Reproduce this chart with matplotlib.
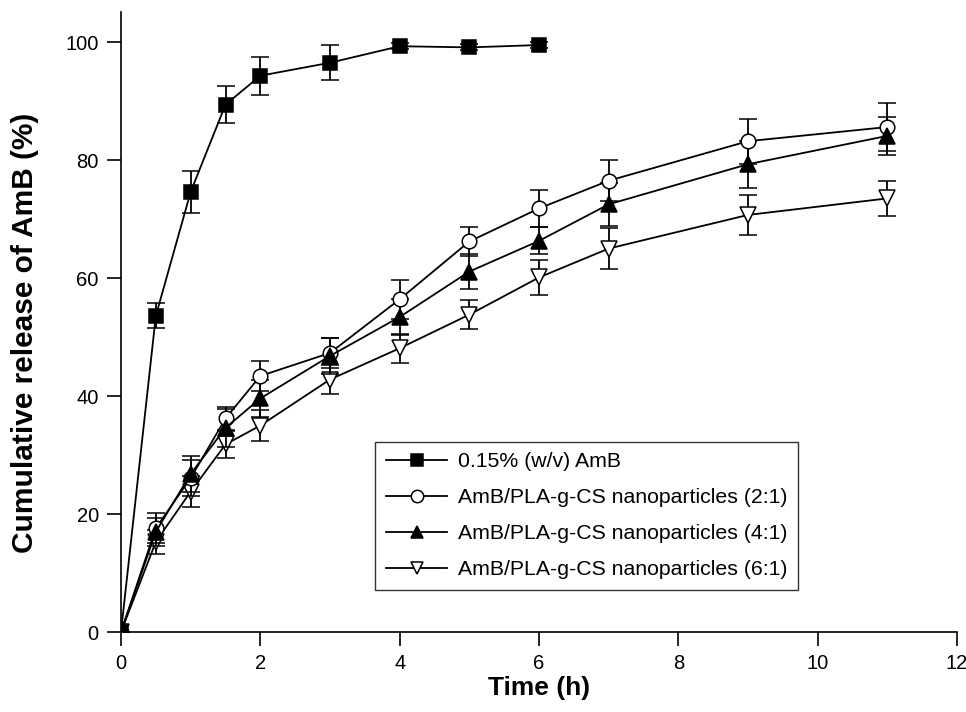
import matplotlib
matplotlib.use("Agg")
import matplotlib.pyplot as plt

plt.rcParams['font.family'] = ['Liberation Sans', 'DejaVu Sans']

time_free = [0, 0.5, 1, 1.5, 2, 3, 4, 5, 6]
free_amb = [0, 53.6, 74.6, 89.4, 94.3, 96.5, 99.3, 99.1, 99.5]
free_err = [0, 2.1, 3.5, 3.2, 3.2, 3.0, 0.5, 0.5, 0.5]

time_np = [0, 0.5, 1, 1.5, 2, 3, 4, 5, 6, 7, 9, 11]
np21 = [0, 17.6, 26.1, 36.2, 43.4, 47.3, 56.4, 66.2, 71.8, 76.5, 83.2, 85.6]
np21_err = [0, 2.5, 3.0, 2.0, 2.6, 2.5, 3.3, 2.4, 3.2, 3.5, 3.8, 4.0]
np41 = [0, 17.0, 26.8, 34.6, 39.6, 46.8, 53.4, 61.1, 66.3, 72.5, 79.3, 84.1]
np41_err = [0, 2.4, 3.0, 3.2, 3.2, 3.0, 3.0, 3.0, 2.3, 3.6, 4.0, 3.2]
np61 = [0, 15.3, 23.8, 31.8, 35.0, 42.8, 48.1, 53.8, 60.1, 65.0, 70.7, 73.5]
np61_err = [0, 2.0, 2.6, 2.3, 2.6, 2.5, 2.5, 2.5, 3.0, 3.4, 3.4, 3.0]

labels = ["0.15% (w/v) AmB",
          "AmB/PLA-g-CS nanoparticles (2:1)",
          "AmB/PLA-g-CS nanoparticles (4:1)",
          "AmB/PLA-g-CS nanoparticles (6:1)"]

fig = plt.figure(figsize=(9.66, 7.12), dpi=100)
ax = fig.add_axes([121/966, 1-632/712, 836/966, 620/712])

common = dict(color='black', lw=1.3, capsize=6.5, elinewidth=1.3, capthick=1.3,
              markersize=9.5, markeredgecolor='black', markeredgewidth=1.1)

ax.errorbar(time_free, free_amb, yerr=free_err, marker='s', markerfacecolor='black',
            label=labels[0], zorder=5, **common)
ax.errorbar(time_np, np21, yerr=np21_err, marker='o', markerfacecolor='white',
            label=labels[1], zorder=4, **{**common, 'markersize': 10.5})
ax.errorbar(time_np, np41, yerr=np41_err, marker='^', markerfacecolor='black',
            label=labels[2], zorder=4, **{**common, 'markersize': 11})
ax.errorbar(time_np, np61, yerr=np61_err, marker='v', markerfacecolor='white',
            label=labels[3], zorder=3, **{**common, 'markersize': 11})

ax.set_xlim(0, 12)
ax.set_ylim(0, 105.1)
ax.set_xticks([0, 2, 4, 6, 8, 10, 12])
ax.set_yticks([0, 20, 40, 60, 80, 100])
ax.spines['top'].set_visible(False)
ax.spines['right'].set_visible(False)
for s in ['left', 'bottom']:
    ax.spines[s].set_linewidth(1.2)
ax.tick_params(direction='out', length=10, width=1.2, labelsize=14.5, pad=6)

ax.set_xlabel("Time (h)", fontsize=19, fontweight='bold', labelpad=2)
ax.set_ylabel("Cumulative release of AmB (%)", fontsize=21.5, fontweight='bold')
ax.yaxis.set_label_coords(-0.098, 0.482)

handles, labs = ax.get_legend_handles_labels()
handles = [h[0] for h in handles]
leg = ax.legend(handles, labs, loc='lower left', bbox_to_anchor=(0.304, 0.068),
                borderaxespad=0, fontsize=15.3, frameon=True, fancybox=False,
                edgecolor='black', handlelength=2.9, handletextpad=0.5,
                labelspacing=0.8, borderpad=0.5, markerscale=0.85)
leg.get_frame().set_linewidth(1.0)

fig.savefig("out.png", dpi=100)
